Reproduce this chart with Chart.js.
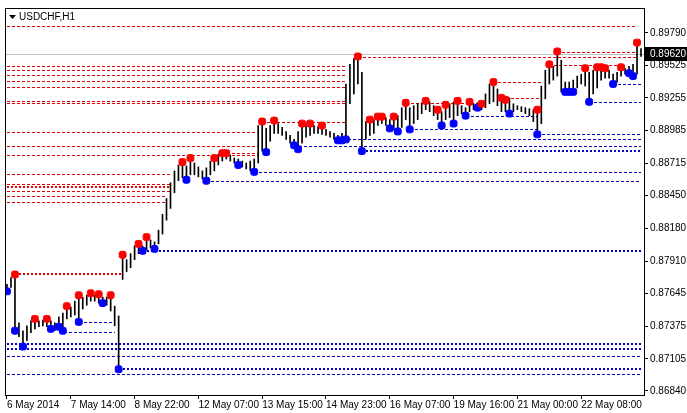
<!DOCTYPE html>
<html>
<head>
<meta charset="utf-8">
<script src="https://cdn.jsdelivr.net/npm/chart.js@4.4.1/dist/chart.umd.min.js"></script>
<style>
  html, body { margin: 0; padding: 0; background: #fff; }
  #wrap { width: 687px; height: 413px; position: relative; }
</style>
</head>
<body>
<div id="wrap"><canvas id="c"></canvas></div>
<script>
// USDCHF H1 - bars (2h steps), fractals and fractal levels
const symbolTitle = 'USDCHF,H1';
const lastPrice = 0.89620;

const highs = [
  .87718,.87775,.87800,.87401,.87336,.87377,.87417,.87434,.87417,.87425,
  .87434,.87417,.87401,.87450,.87482,.87539,.87531,.87580,.87629,.87613,
  .87629,.87645,.87629,.87637,.87613,.87613,.87629,.87539,.87458,.87962,
  .87922,.87971,.88035,.88052,.88035,.88108,.88084,.88068,.88165,.88295,
  .88426,.88555,.88653,.88702,.88726,.88694,.88759,.88718,.88686,.88653,
  .88678,.88734,.88759,.88791,.88799,.88799,.88783,.88759,.88751,.88734,
  .88718,.88734,.88751,.89027,.89060,.89003,.89027,.89068,.89043,.89011,
  .88978,.88946,.88913,.88978,.89043,.89027,.89043,.89027,.89019,.89027,
  .88995,.88978,.88962,.88946,.88962,.89369,.89531,.89580,.89596,.89466,
  .89060,.89076,.89076,.89100,.89100,.89092,.89076,.89100,.89108,.89174,
  .89214,.89174,.89190,.89206,.89214,.89230,.89222,.89190,.89157,.89141,
  .89198,.89206,.89222,.89230,.89190,.89174,.89222,.89206,.89214,.89206,
  .89287,.89369,.89385,.89328,.89255,.89239,.89255,.89206,.89190,.89182,
  .89174,.89165,.89157,.89157,.89352,.89482,.89531,.89515,.89637,.89564,
  .89385,.89385,.89401,.89434,.89450,.89499,.89466,.89482,.89507,.89507,
  .89499,.89482,.89450,.89466,.89507,.89499,.89515,.89531,.89710,.89661
];
const lows = [
  .87661,.87694,.87336,.87287,.87206,.87255,.87320,.87352,.87369,.87377,
  .87369,.87352,.87336,.87369,.87336,.87434,.87450,.87466,.87409,.87515,
  .87547,.87580,.87580,.87564,.87564,.87547,.87499,.87377,.87019,.87759,
  .87824,.87856,.87922,.87971,.87995,.88003,.88019,.88011,.88052,.88133,
  .88247,.88344,.88474,.88572,.88596,.88580,.88621,.88621,.88604,.88588,
  .88572,.88621,.88653,.88702,.88734,.88751,.88734,.88718,.88702,.88686,
  .88669,.88653,.88645,.88718,.88816,.88808,.88897,.88962,.88962,.88946,
  .88913,.88881,.88864,.88832,.88881,.88930,.88946,.88962,.88962,.88954,
  .88946,.88930,.88913,.88905,.88905,.88913,.89206,.89287,.89369,.88816,
  .88913,.88946,.88962,.89027,.89043,.89027,.89003,.88995,.88978,.89011,
  .89076,.88995,.89043,.89076,.89125,.89157,.89141,.89108,.89076,.89027,
  .89076,.89092,.89043,.89108,.89125,.89108,.89141,.89157,.89174,.89157,
  .89174,.89206,.89222,.89190,.89141,.89141,.89125,.89141,.89157,.89141,
  .89125,.89108,.89060,.88954,.89043,.89247,.89369,.89401,.89434,.89304,
  .89304,.89304,.89304,.89336,.89369,.89352,.89222,.89287,.89336,.89401,
  .89417,.89417,.89369,.89385,.89434,.89450,.89458,.89434,.89450,.89596
];

const fractalUp = [2,7,10,15,18,21,23,26,29,33,35,44,46,52,54,55,64,67,74,76,79,88,91,93,94,97,100,105,108,110,113,116,119,122,124,125,133,136,138,145,148,149,150,154,158];
const fractalDown = [0,2,4,11,13,14,18,24,28,34,37,45,50,58,62,65,72,73,83,84,85,89,96,98,101,109,112,115,118,126,133,140,141,142,146,152,156,157];

// levels: [price, fromBar, toBar, thick]
const redLevels = [
  [.89848,0,158,0],[.89515,0,85,0],[.89482,0,85,0],[.89442,0,85,0],[.89393,0,85,0],
  [.89344,0,85,0],[.89230,0,85,0],[.89214,0,85,0],[.88970,0,63,0],[.88856,0,63,0],
  [.88783,0,63,0],[.88629,0,41,0],[.88548,0,41,0],[.88523,0,41,1],[.88491,0,41,0],
  [.88450,0,40,0],[.88401,0,40,0],[.87800,2,29,1],[.89060,64,85,0],[.89588,88,158,0],
  [.89629,138,158,0],[.89523,136,155,0],[.89385,122,134,0],[.89255,124,134,0],
  [.89214,100,120,0],[.88799,54,63,0]
];
const blueLevels = [
  [.87231,0,159,1],[.87190,0,159,1],[.87125,0,159,0],[.87019,28,159,1],[.86978,0,159,0],
  [.87995,34,159,1],[.88572,50,159,0],[.88645,62,159,0],[.88856,72,159,0],[.88816,89,159,1],
  [.88913,83,159,0],[.88954,133,159,0],[.88995,101,133,0],[.89108,115,133,0],
  [.89222,146,159,0],[.89369,152,159,0],[.87409,18,27,0],[.87328,13,27,0]
];

const yTicks = [0.89790,0.89525,0.89255,0.88985,0.88715,0.88450,0.88180,0.87910,0.87645,0.87375,0.87105,0.86840];
const xTickBars = [0,16,32,48,64,80,96,112,128,144];
const xTickLabels = ['6 May 2014','7 May 14:00','8 May 22:00','12 May 07:00','13 May 15:00','14 May 23:00','16 May 07:00','19 May 16:00','21 May 00:00','22 May 08:00'];

const FONT = { family: 'Liberation Sans, Arial, sans-serif', size: 10 };

const datasets = [
    { type: 'bar', data: highs.map((h, i) => ({ x: i, y: [lows[i], h] })), backgroundColor: '#000', barThickness: 1, order: 2 },
    { type: 'scatter', data: fractalUp.map(i => ({ x: i, y: highs[i] })), backgroundColor: '#ff0000', borderColor: '#ff0000', pointStyle: 'rectRounded', pointRadius: 4, order: 1 },
    { type: 'scatter', data: fractalDown.map(i => ({ x: i, y: lows[i] })), backgroundColor: '#0000ff', borderColor: '#0000ff', pointStyle: 'rectRounded', pointRadius: 4, order: 1 }
];

// level lines snapped to whole pixels so thin dashes stay crisp
function drawLevels(ctx, sx, sy, levels, color) {
    levels.forEach(([v, a, b, thick]) => {
        const y = Math.round(sy.getPixelForValue(v)) + (thick ? 0 : 0.5);
        ctx.strokeStyle = color;
        ctx.lineWidth = thick ? 2 : 1;
        ctx.setLineDash(thick ? [2, 2] : [3, 2]);
        ctx.beginPath();
        ctx.moveTo(Math.round(sx.getPixelForValue(a)), y);
        ctx.lineTo(Math.round(sx.getPixelForValue(b)), y);
        ctx.stroke();
    });
}

const levelsPlugin = {
    id: 'levels',
    beforeDatasetsDraw(chart) {
        const { ctx, chartArea: a, scales } = chart;
        ctx.save();
        const py = Math.round(scales.y.getPixelForValue(lastPrice)) + 0.5;
        ctx.strokeStyle = '#c0c0c0'; ctx.lineWidth = 1;
        ctx.beginPath(); ctx.moveTo(a.left, py); ctx.lineTo(a.right, py); ctx.stroke();
        drawLevels(ctx, scales.x, scales.y, redLevels, '#e00000');
        drawLevels(ctx, scales.x, scales.y, blueLevels, '#0000c0');
        ctx.restore();
    }
};

const decor = {
    id: 'decor',
    afterDraw(chart) {
        const { ctx, chartArea: a, scales } = chart;
        ctx.save();
        ctx.strokeStyle = '#000';
        ctx.lineWidth = 1;
        ctx.strokeRect(a.left + 0.5, a.top + 0.5, a.right - a.left, a.bottom - a.top);
        // title
        ctx.fillStyle = '#000';
        ctx.beginPath();
        ctx.moveTo(a.left + 4, a.top + 7); ctx.lineTo(a.left + 11, a.top + 7); ctx.lineTo(a.left + 7.5, a.top + 11);
        ctx.fill();
        ctx.font = '10px Liberation Sans, Arial, sans-serif';
        ctx.textBaseline = 'middle';
        ctx.fillText(symbolTitle, a.left + 14, a.top + 9);
        // last price tag
        const y = Math.round(scales.y.getPixelForValue(lastPrice));
        ctx.fillRect(a.right + 1, y - 7, 42, 14);
        ctx.fillStyle = '#fff';
        ctx.fillText(lastPrice.toFixed(5), a.right + 6, y);
        ctx.restore();
    }
};

new Chart(document.getElementById('c'), {
    data: { datasets },
    options: {
        responsive: true, maintainAspectRatio: false, animation: false,
        layout: { padding: { top: 3, left: 3, right: 0, bottom: 0 } },
        plugins: { legend: { display: false }, tooltip: { enabled: false } },
        scales: {
            x: {
                type: 'linear', min: -0.5, max: 159.75, offset: false,
                grid: { drawOnChartArea: false, color: '#000', tickLength: 4, offset: false },
                border: { display: false },
                afterBuildTicks: s => { s.ticks = xTickBars.map(v => ({ value: v })); },
                afterFit: s => { s.height = 18; },
                ticks: { color: '#000', font: FONT, padding: 0, align: 'start', maxRotation: 0, autoSkip: false,
                    callback: v => xTickLabels[xTickBars.indexOf(v)] }
            },
            y: {
                position: 'right', min: 0.86807, max: 0.89995,
                grid: { drawOnChartArea: false, color: '#000', tickLength: 4 },
                border: { display: false },
                afterBuildTicks: s => { s.ticks = yTicks.map(v => ({ value: v })); },
                afterFit: s => { s.width = 43; },
                ticks: { color: '#000', font: FONT, padding: 2, callback: v => v.toFixed(5) }
            }
        }
    },
    plugins: [levelsPlugin, decor]
});
</script>
</body>
</html>
